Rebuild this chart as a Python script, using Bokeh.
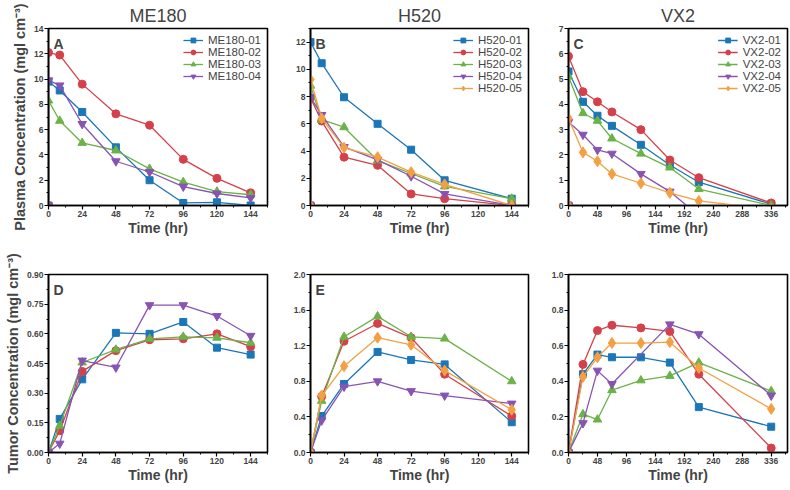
from bokeh.plotting import figure
from bokeh.layouts import row, column
from bokeh.models import Range1d, Label, Legend, LegendItem, FixedTicker, NumeralTickFormatter
from bokeh.embed import file_html
from bokeh.resources import INLINE

# ---------------- data ----------------
titles = ["ME180", "H520", "VX2"]

# plasma (top row)
time_me180 = [0, 0, 8, 24, 48, 72, 96, 120, 144]
me180_01 = [0, 9.8, 9.1, 7.4, 4.6, 2.0, 0.2, 0.25, 0.0]
me180_02 = [0, 12.1, 11.9, 9.6, 7.25, 6.35, 3.65, 2.15, 1.0]
me180_03 = [0, 8.3, 6.7, 4.95, 4.35, 2.9, 1.85, 1.1, 0.85]
me180_04 = [0, 9.9, 9.5, 6.45, 3.5, 2.65, 1.5, 0.95, 0.6]

time_h520 = [0, 0, 8, 24, 48, 72, 96, 144]
h520_01 = [0, 12.0, 10.45, 7.95, 6.0, 4.1, 1.85, 0.5]
h520_02 = [0, 7.9, 6.2, 3.55, 2.95, 0.85, 0.5, 0.0]
h520_03 = [0, 8.8, 6.3, 5.75, 3.3, 2.35, 1.4, 0.5]
h520_04 = [0, 7.95, 6.65, 4.3, 3.35, 2.15, 0.85, 0.0]
h520_05 = [0, 9.25, 6.4, 4.25, 3.55, 2.45, 1.55, 0.0]

time_vx2 = [0, 0, 24, 48, 72, 120, 168, 216, 336]
vx2_01 = [0, 5.3, 4.1, 3.55, 3.15, 2.4, 1.6, 0.92, 0.05]
vx2_02 = [0, 5.9, 4.5, 4.1, 3.7, 3.0, 1.8, 1.1, 0.1]
vx2_03 = [0, 5.1, 3.65, 3.35, 2.65, 2.05, 1.5, 0.65, 0.0]
vx2_04 = [0, 3.3, 2.8, 2.2, 2.05, 1.25, 0.55, -0.4, -0.4]
vx2_05 = [0, 3.45, 2.1, 1.75, 1.25, 0.88, 0.5, 0.18, -0.15]

# tumor (bottom row)
ttime_me180 = [0, 8, 24, 48, 72, 96, 120, 144]
t_me180_01 = [0, 0.17, 0.37, 0.605, 0.60, 0.66, 0.53, 0.495]
t_me180_02 = [0, 0.11, 0.41, 0.515, 0.57, 0.575, 0.60, 0.535]
t_me180_03 = [0, 0.135, 0.455, 0.52, 0.575, 0.585, 0.58, 0.555]
t_me180_04 = [0, 0.045, 0.465, 0.43, 0.745, 0.745, 0.69, 0.59]

ttime_h520 = [0, 8, 24, 48, 72, 96, 144]
t_h520_01 = [0, 0.41, 0.77, 1.13, 1.04, 0.99, 0.34]
t_h520_02 = [0, 0.63, 1.25, 1.45, 1.29, 0.88, 0.41]
t_h520_03 = [0, 0.58, 1.30, 1.53, 1.30, 1.28, 0.80]
t_h520_04 = [0, 0.36, 0.74, 0.80, 0.69, 0.64, 0.55]
t_h520_05 = [0, 0.64, 0.97, 1.29, 1.21, 0.92, 0.48]

ttime_vx2 = [0, 24, 48, 72, 120, 168, 216, 336]
t_vx2_01 = [0, 0.44, 0.55, 0.535, 0.535, 0.505, 0.255, 0.145]
t_vx2_02 = [0, 0.495, 0.685, 0.715, 0.70, 0.68, 0.44, 0.025]
t_vx2_03 = [0, 0.215, 0.185, 0.35, 0.405, 0.43, 0.505, 0.345]
t_vx2_04 = [0, 0.165, 0.46, 0.385, None, 0.72, 0.665, 0.32]
t_vx2_05 = [0, 0.425, 0.535, 0.615, 0.615, 0.62, 0.475, 0.245]

x_ticks_short = [0, 24, 48, 72, 96, 120, 144]
x_ticks_long = [0, 48, 96, 144, 192, 240, 288, 336]

# ---------------- styling ----------------
FONT = "Liberation Sans"
COLORS = ["#1b76b8", "#d4414a", "#6bb247", "#8953b3", "#f4a042"]
MARKERS = ["square", "circle", "triangle", "inverted_triangle", "diamond"]
SIZES = [7, 8, 8.5, 8.5, 11]


def make_panel(time, series, names, xmax, xticks, ymax, yticks, yfmt,
               fw, fh, bl, br, bt, bb, letter=None, title=None,
               ylabel=None, legend=True):
    p = figure(frame_width=fw, frame_height=fh, output_backend="svg",
               toolbar_location=None,
               x_range=Range1d(0, xmax), y_range=Range1d(0, ymax),
               min_border_left=bl, min_border_right=br,
               min_border_top=bt, min_border_bottom=bb)
    p.xgrid.visible = False
    p.ygrid.visible = False
    p.outline_line_color = "black"
    p.outline_line_width = 1.6
    p.background_fill_color = "white"
    p.border_fill_color = "white"

    if title:
        p.title.text = title
        p.title.align = "center"
        p.title.text_font = FONT
        p.title.text_font_size = "18px"
        p.title.text_font_style = "normal"
        p.title.standoff = 6
        p.title.offset = 0

    xs = xticks[1] - xticks[0]
    ys = yticks[1] - yticks[0]
    p.xaxis.ticker = FixedTicker(ticks=xticks,
                                 minor_ticks=[t + xs / 2 for t in xticks])
    p.yaxis.ticker = FixedTicker(ticks=yticks,
                                 minor_ticks=[t + ys / 2 for t in yticks])
    p.yaxis.formatter = NumeralTickFormatter(format=yfmt)
    for ax in (p.xaxis, p.yaxis):
        ax.axis_line_width = 1.6
        ax.major_tick_out = 4
        ax.major_tick_in = 0
        ax.minor_tick_out = 2
        ax.minor_tick_in = 0
        ax.major_tick_line_width = 1.2
        ax.minor_tick_line_width = 1.0
        ax.major_label_text_font = FONT
        ax.major_label_text_font_size = "8.5px"
        ax.major_label_text_font_style = "bold"
        ax.major_label_standoff = 1
        ax.axis_label_text_font = FONT
        ax.axis_label_text_font_size = "14px"
        ax.axis_label_text_font_style = "bold"
    p.xaxis.axis_label = "Time (hr)"
    p.xaxis.axis_label_standoff = 0
    if ylabel:
        p.yaxis.axis_label = ylabel
        p.yaxis.axis_label_standoff = 3
        p.yaxis.axis_label_text_font_size = "14.5px"

    items = []
    for i, (yv, name) in enumerate(zip(series, names)):
        px = [t for t, v in zip(time, yv) if v is not None]
        py = [v for v in yv if v is not None]
        lr = p.line(px, py, line_color=COLORS[i], line_width=1.3)
        sr = p.scatter(px, py, marker=MARKERS[i], size=SIZES[i],
                       fill_color=COLORS[i], line_color=COLORS[i])
        items.append(LegendItem(label=name, renderers=[lr, sr]))

    if legend:
        lg = Legend(items=items, location="top_right",
                    label_text_font=FONT, label_text_font_size="11.5px",
                    label_text_line_height=1.0,
                    glyph_width=20, glyph_height=12, label_height=12,
                    spacing=0, padding=2, margin=4, label_standoff=5,
                    border_line_alpha=0, background_fill_alpha=0)
        p.add_layout(lg)

    if letter:
        p.add_layout(Label(x=0, y=ymax, x_offset=5, y_offset=-7, text=letter,
                           text_baseline="top", text_font=FONT,
                           text_font_size="14px", text_font_style="bold"))
    return p


plasma_label = "Plasma Concentration (mgl cm\u207b\u00b3)"
tumor_label = "Tumor Concentration (mgl cm\u207b\u00b3)"

FH_TOP, FH_BOT = 177, 178

pA = make_panel(time_me180, [me180_01, me180_02, me180_03, me180_04],
                ["ME180-01", "ME180-02", "ME180-03", "ME180-04"],
                156, x_ticks_short, 14, list(range(0, 15, 2)), "0",
                219, FH_TOP, 48, 23, 27, 36, letter="A", title=titles[0],
                ylabel=plasma_label)
pB = make_panel(time_h520, [h520_01, h520_02, h520_03, h520_04, h520_05],
                ["H520-01", "H520-02", "H520-03", "H520-04", "H520-05"],
                156, x_ticks_short, 13, list(range(0, 13, 2)), "0",
                218, FH_TOP, 20, 20, 27, 36, letter="B", title=titles[1])
pC = make_panel(time_vx2, [vx2_01, vx2_02, vx2_03, vx2_04, vx2_05],
                ["VX2-01", "VX2-02", "VX2-03", "VX2-04", "VX2-05"],
                363, x_ticks_long, 7, list(range(0, 8)), "0",
                219, FH_TOP, 20, 2, 27, 36, letter="C", title=titles[2])

pD = make_panel(ttime_me180, [t_me180_01, t_me180_02, t_me180_03, t_me180_04],
                ["ME180-01", "ME180-02", "ME180-03", "ME180-04"],
                156, x_ticks_short, 0.9, [0, 0.15, 0.30, 0.45, 0.60, 0.75, 0.90], "0.00",
                219, FH_BOT, 48, 23, 33, 31, letter="D", ylabel=tumor_label,
                legend=False)
pE = make_panel(ttime_h520, [t_h520_01, t_h520_02, t_h520_03, t_h520_04, t_h520_05],
                ["H520-01", "H520-02", "H520-03", "H520-04", "H520-05"],
                156, x_ticks_short, 2.0, [0, 0.4, 0.8, 1.2, 1.6, 2.0], "0.0",
                218, FH_BOT, 20, 20, 33, 31, letter="E", legend=False)
pF = make_panel(ttime_vx2, [t_vx2_01, t_vx2_02, t_vx2_03, t_vx2_04, t_vx2_05],
                ["VX2-01", "VX2-02", "VX2-03", "VX2-04", "VX2-05"],
                363, x_ticks_long, 1.0, [0, 0.2, 0.4, 0.6, 0.8, 1.0], "0.0",
                219, FH_BOT, 20, 2, 33, 31, legend=False)

layout = column(row(pA, pB, pC), row(pD, pE, pF))
open("out.html", "w").write(file_html(layout, INLINE))
